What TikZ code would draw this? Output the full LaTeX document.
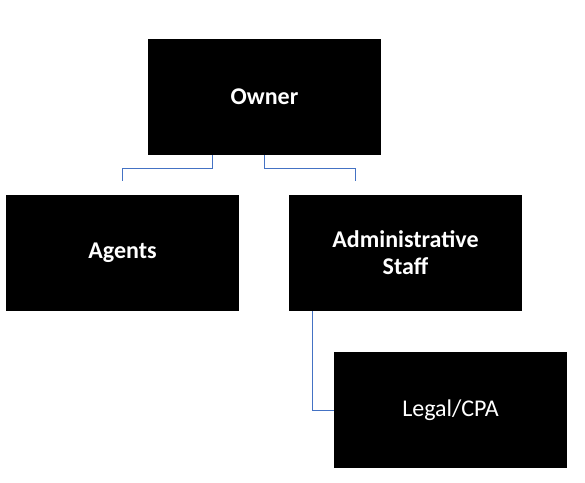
\documentclass[tikz,border=0pt]{standalone}
\usepackage{fontspec}
\setmainfont{Carlito}
\begin{document}
\begin{tikzpicture}[x=1pt,y=-1pt,
box/.style={fill=black,draw=none,text=white,minimum width=233pt,minimum height=116pt,inner sep=0pt,align=center,font=\fontsize{24}{27}\selectfont\bfseries},
ln/.style={draw={rgb,255:red,68;green,114;blue,196},line width=0.8pt}]
\useasboundingbox (0,0) rectangle (585,482);
\node[box] (owner) at (264.5,97) {Owner};
\node[box] (agents) at (122.5,253) {Agents};
\node[box] (admin) at (405.5,253) {Administrative\\Staff};
\node[box,font=\fontsize{24}{27}\selectfont] (legal) at (450.5,410) {Legal/CPA};
\coordinate (a1) at (122,181);
\coordinate (a2) at (355,181);
\draw[ln] (owner.south -| 212,0) |- (122,168) -- (a1);
\draw[ln] (owner.south -| 264,0) |- (355,168) -- (a2);
\draw[ln] (admin.south -| 312,0) |- (legal.west);
\end{tikzpicture}
\end{document}
